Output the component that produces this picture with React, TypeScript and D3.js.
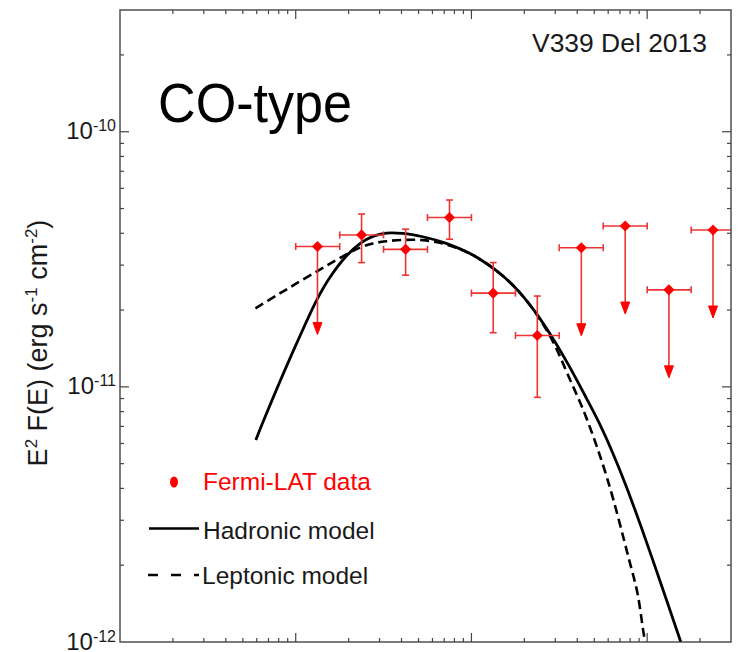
import React from 'react';
import * as d3 from 'd3';

// ---- Data (energy in GeV, E^2 F(E) in erg s^-1 cm^-2) ----
const eLow = [1.0, 1.78, 3.16, 5.62, 10.0, 17.8, 31.6, 56.2, 100, 178];
const eHigh = [1.78, 3.16, 5.62, 10.0, 17.8, 31.6, 56.2, 100, 178, 316];
const eCenter = [1.33, 2.37, 4.22, 7.5, 13.3, 23.7, 42.2, 75, 133, 237];
const flux = [3.55e-11, 3.94e-11, 3.46e-11, 4.61e-11, 2.33e-11, 1.59e-11, 3.51e-11, 4.27e-11, 2.4e-11, 4.12e-11];
const fluxHi = [null, 4.76e-11, 4.15e-11, 5.4e-11, 3.07e-11, 2.27e-11, null, null, null, null];
const fluxLo = [null, 3.07e-11, 2.74e-11, 3.79e-11, 1.63e-11, 9.1e-12, null, null, null, null];
const upperLimit = [true, false, false, false, false, false, true, true, true, true];

const hadE = [0.593, 0.652, 0.811, 1.009, 1.321, 1.561, 1.942, 2.34, 2.749, 3.276, 4.072, 5.288, 7.182, 9.741, 12.12, 15.06, 18.74, 23.32, 28.97, 36.06, 44.84, 53.38, 63.25, 75.68, 90.07, 107.2, 129.9, 155.4];
const hadF = [6.19e-12, 7.3e-12, 1.045e-11, 1.474e-11, 2.199e-11, 2.678e-11, 3.256e-11, 3.658e-11, 3.89e-11, 4.007e-11, 3.996e-11, 3.876e-11, 3.651e-11, 3.34e-11, 3.051e-11, 2.726e-11, 2.351e-11, 1.946e-11, 1.555e-11, 1.203e-11, 9.1e-12, 7.21e-12, 5.57e-12, 4.11e-12, 2.97e-12, 2.112e-12, 1.437e-12, 1.0e-12];

const lepE = [0.59, 0.811, 1.009, 1.321, 1.561, 1.942, 2.34, 2.749, 3.276, 4.072, 5.288, 7.182, 9.741, 12.12, 15.06, 18.74, 23.32, 28.97, 36.06, 44.84, 59.28, 79.0, 88.1, 96.2, 98.7];
const lepF = [2.032e-11, 2.323e-11, 2.543e-11, 2.838e-11, 3.032e-11, 3.304e-11, 3.519e-11, 3.648e-11, 3.721e-11, 3.765e-11, 3.759e-11, 3.615e-11, 3.34e-11, 3.051e-11, 2.726e-11, 2.351e-11, 1.94e-11, 1.513e-11, 1.083e-11, 7.64e-12, 4.37e-12, 2.096e-12, 1.552e-12, 1.049e-12, 0.973e-12];

const yMajorLabels = [
  { v: 1e-10, exp: '-10' },
  { v: 1e-11, exp: '-11' },
  { v: 1e-12, exp: '-12' },
];

const W = 738;
const H = 652;
const FONT = '"Liberation Sans", Arial, Helvetica, sans-serif';
const RED = '#ff0000';
const BAR = '#ec3434';

export default function App() {
  const left = 120, right = 731, top = 10, bottom = 642;
  const x = d3.scaleLog().domain([0.1, 300]).range([left, right]);
  const y = d3.scaleLog().domain([1e-12, 3e-10]).range([bottom, top]);

  const isMajor = (v: number) => Math.abs(Math.log10(v) - Math.round(Math.log10(v))) < 1e-6;
  const xTicks = x.ticks().filter((v) => v > 0.1 + 1e-9 && v < 300 - 1e-9);
  const yTicks = y.ticks().filter((v) => v > 1e-12 * 1.0001 && v < 3e-10 * 0.9999);

  const line = d3
    .line<[number, number]>()
    .x((d) => x(d[0]))
    .y((d) => y(d[1]))
    .curve(d3.curveCatmullRom.alpha(0.5));

  const hadPath = line(hadE.map((e, i) => [e, hadF[i]] as [number, number])) || '';
  const lepPath = line(lepE.map((e, i) => [e, lepF[i]] as [number, number])) || '';

  const diamond = d3.symbol().type(d3.symbolSquare).size(62)() || '';
  const cap = 3.5;
  const arrowLen = 88;

  return (
    <svg width={W} height={H} style={{ position: 'absolute', left: 0, top: 0, background: '#fff' }} fontFamily={FONT}>
      <defs>
        <clipPath id="plotClip">
          <rect x={left} y={top} width={right - left} height={bottom - top} />
        </clipPath>
      </defs>
      <rect x={0} y={0} width={W} height={H} fill="#fff" />

      {/* ticks */}
      <g stroke="#444" strokeWidth={1.2}>
        {xTicks.map((v, i) => {
          const L = isMajor(v) ? 9 : 4;
          const px = x(v);
          return (
            <g key={'xt' + i}>
              <line x1={px} x2={px} y1={bottom} y2={bottom - L} />
              <line x1={px} x2={px} y1={top} y2={top + L} />
            </g>
          );
        })}
        {yTicks.map((v, i) => {
          const L = isMajor(v) ? 9 : 4;
          const py = y(v);
          return (
            <g key={'yt' + i}>
              <line x1={left} x2={left + L} y1={py} y2={py} />
              <line x1={right} x2={right - L} y1={py} y2={py} />
            </g>
          );
        })}
      </g>

      {/* y tick labels */}
      {yMajorLabels.map((d) => (
        <text key={d.exp} x={116} y={y(d.v) + 7.5} textAnchor="end" fontSize={24} fill="#1a1a1a">
          <tspan>10</tspan>
          <tspan dy={-8} fontSize={16}>{d.exp}</tspan>
        </text>
      ))}

      {/* y axis title */}
      <text transform="translate(47,343) rotate(-90)" textAnchor="middle" fontSize={27} fill="#1a1a1a">
        <tspan>E</tspan>
        <tspan dy={-10} fontSize={17}>2</tspan>
        <tspan dy={10}> F(E) (erg s</tspan>
        <tspan dy={-10} fontSize={17}>-1</tspan>
        <tspan dy={10}>  cm</tspan>
        <tspan dy={-10} fontSize={17}>-2</tspan>
        <tspan dy={10}>)</tspan>
      </text>

      {/* model curves */}
      <g clipPath="url(#plotClip)" fill="none" stroke="#000">
        <path d={lepPath} strokeWidth={2.6} strokeDasharray="9 5" />
        <path d={hadPath} strokeWidth={2.8} />
      </g>

      {/* data */}
      <g clipPath="url(#plotClip)">
        {eCenter.map((e, i) => {
          const cx = x(e);
          const cy = y(flux[i]);
          const xl = x(eLow[i]);
          const xh = x(eHigh[i]);
          return (
            <g key={'pt' + i}>
              <g stroke={BAR} strokeWidth={1.6}>
                <line x1={xl} x2={xh} y1={cy} y2={cy} />
                <line x1={xl} x2={xl} y1={cy - cap} y2={cy + cap} />
                <line x1={xh} x2={xh} y1={cy - cap} y2={cy + cap} />
                {!upperLimit[i] && fluxHi[i] != null && fluxLo[i] != null && (
                  <>
                    <line x1={cx} x2={cx} y1={y(fluxHi[i] as number)} y2={y(fluxLo[i] as number)} />
                    <line x1={cx - cap} x2={cx + cap} y1={y(fluxHi[i] as number)} y2={y(fluxHi[i] as number)} />
                    <line x1={cx - cap} x2={cx + cap} y1={y(fluxLo[i] as number)} y2={y(fluxLo[i] as number)} />
                  </>
                )}
                {upperLimit[i] && <line x1={cx} x2={cx} y1={cy} y2={cy + arrowLen - 8} />}
              </g>
              {upperLimit[i] && (
                <path
                  d={`M${cx - 4.5},${cy + arrowLen - 12} L${cx + 4.5},${cy + arrowLen - 12} L${cx},${cy + arrowLen} Z`}
                  fill={RED}
                  stroke={RED}
                  strokeWidth={1}
                  strokeLinejoin="round"
                />
              )}
              <path d={diamond} transform={`translate(${cx},${cy}) rotate(45)`} fill={RED} />
            </g>
          );
        })}
      </g>

      {/* frame */}
      <rect x={left} y={top} width={right - left} height={bottom - top} fill="none" stroke="#444" strokeWidth={1.4} />

      {/* annotations */}
      <text x={707} y={52} textAnchor="end" fontSize={25} fill="#1a1a1a" textLength={175} lengthAdjust="spacingAndGlyphs">
        V339 Del 2013
      </text>
      <text x={158} y={121.5} fontSize={55} fill="#000" textLength={194} lengthAdjust="spacingAndGlyphs">
        CO-type
      </text>

      {/* legend */}
      <ellipse cx={174} cy={482} rx={4} ry={5.5} fill={RED} />
      <text x={203} y={490} fontSize={24.5} fill={RED}>Fermi-LAT data</text>
      <line x1={149} x2={199} y1={528.5} y2={528.5} stroke="#000" strokeWidth={2.6} />
      <text x={203} y={538.5} fontSize={24.5} fill="#1a1a1a">Hadronic model</text>
      <line x1={148} x2={199} y1={575} y2={575} stroke="#000" strokeWidth={2.6} strokeDasharray="10 13" />
      <text x={202} y={583.5} fontSize={24.5} fill="#1a1a1a">Leptonic model</text>
    </svg>
  );
}
